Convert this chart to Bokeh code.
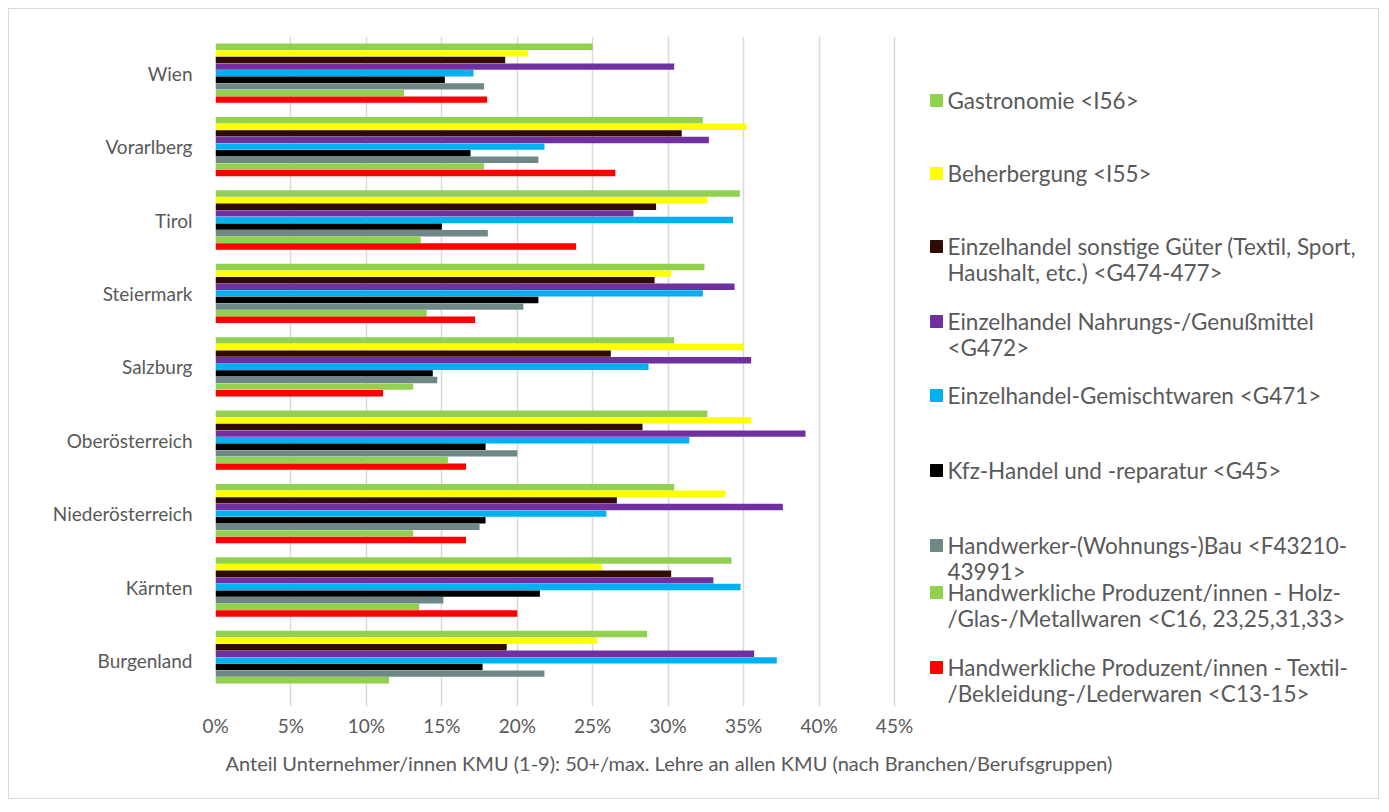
from bokeh.plotting import figure
from bokeh.models import (NumeralTickFormatter, FixedTicker, Range1d,
                          ColumnDataSource, Title)
from bokeh.core.properties import value
from bokeh.embed import file_html
from bokeh.resources import INLINE

regions = ["Wien", "Vorarlberg", "Tirol", "Steiermark", "Salzburg",
           "Oberösterreich", "Niederösterreich", "Kärnten", "Burgenland"]

series_names = [
    "Gastronomie <I56>",
    "Beherbergung <I55>",
    "Einzelhandel sonstige Güter (Textil, Sport,\nHaushalt, etc.) <G474-477>",
    "Einzelhandel Nahrungs-/Genußmittel\n<G472>",
    "Einzelhandel-Gemischtwaren <G471>",
    "Kfz-Handel und -reparatur <G45>",
    "Handwerker-(Wohnungs-)Bau <F43210-\n43991>",
    "Handwerkliche Produzent/innen - Holz-\n/Glas-/Metallwaren <C16, 23,25,31,33>",
    "Handwerkliche Produzent/innen - Textil-\n/Bekleidung-/Lederwaren <C13-15>",
]
series_colors = ["#92D050", "#FFFF00", "#2F0B00", "#7030A0", "#00B0F0",
                 "#000000", "#6E8787", "#92D050", "#FF0000"]

# values in percent, order of regions above
gastronomie = [25.0, 32.3, 34.75, 32.4, 30.4, 32.6, 30.4, 34.2, 28.6]
beherbergung = [20.7, 35.2, 32.6, 30.2, 35.0, 35.5, 33.8, 25.6, 25.3]
einzel_sonstige = [19.2, 30.9, 29.2, 29.1, 26.2, 28.3, 26.6, 30.2, 19.3]
einzel_nahrung = [30.4, 32.7, 27.7, 34.4, 35.5, 39.1, 37.6, 33.0, 35.7]
einzel_gemischt = [17.1, 21.8, 34.3, 32.3, 28.7, 31.4, 25.9, 34.8, 37.2]
kfz = [15.2, 16.9, 15.0, 21.4, 14.4, 17.9, 17.9, 21.5, 17.7]
handwerker_bau = [17.8, 21.4, 18.05, 20.4, 14.7, 20.0, 17.5, 15.1, 21.8]
holz_glas_metall = [12.5, 17.8, 13.6, 14.0, 13.1, 15.4, 13.1, 13.5, 11.5]
textil_leder = [18.0, 26.5, 23.9, 17.2, 11.1, 16.6, 16.6, 20.0, float("nan")]

all_series = [gastronomie, beherbergung, einzel_sonstige, einzel_nahrung,
              einzel_gemischt, kfz, handwerker_bau, holz_glas_metall, textil_leder]

x_ticks = [0, 5, 10, 15, 20, 25, 30, 35, 40, 45]

FONT = "Lato"
TXT = "#595959"

# page geometry (pixels)
OX, OY = 9, 9                 # canvas origin on the page (margin + border)
CW, CH = 1371, 791            # canvas size
FL, FR, FT, FB = 215, 1380, 36, 706   # frame edges on the page
X45 = 894                     # page x of the 45 % gridline
CAT_PX = 73.4                 # pixel height of one region band
x_end = 0.45 * (FR - FL) / (X45 - FL)
n = len(regions)
y_start = n - (FB - FT) / CAT_PX

p = figure(width=CW, height=CH, output_backend="svg", toolbar_location=None,
           y_range=Range1d(y_start, n), x_range=Range1d(0, x_end),
           min_border_left=FL - OX, min_border_right=(OX + CW) - FR,
           min_border_top=FT - OY, min_border_bottom=(OY + CH) - FB,
           margin=(8, 0, 0, 8), styles={"border": "1px solid #D9D9D9"})
p.outline_line_color = None
p.background_fill_color = "white"
p.border_fill_color = "white"

# region k (Wien first) is centred at n - k - 0.5
centres = [n - k - 0.5 for k in range(n)]
slot = 0.09
for i, s in enumerate(all_series):
    off = (4 - i) * slot
    src = ColumnDataSource(dict(y=[c + off for c in centres],
                                right=[v / 100.0 for v in s]))
    p.hbar(y="y", left=0, right="right", height=slot * 0.97, source=src,
           fill_color=series_colors[i], line_color=None)

p.xaxis.ticker = FixedTicker(ticks=[t / 100 for t in x_ticks])
p.xaxis.formatter = NumeralTickFormatter(format="0%")
p.xgrid.ticker = FixedTicker(ticks=[t / 100 for t in x_ticks])
p.xgrid.grid_line_color = "#D9D9D9"
p.xgrid.grid_line_width = 1.5
p.ygrid.grid_line_color = None

p.yaxis.ticker = FixedTicker(ticks=centres)
p.yaxis.major_label_overrides = {c: r for c, r in zip(centres, regions)}

for ax in (p.xaxis[0], p.yaxis[0]):
    ax.axis_line_color = None
    ax.major_tick_line_color = None
    ax.minor_tick_line_color = None
    ax.major_tick_out = 0
    ax.minor_tick_out = 0
    ax.major_label_text_font = FONT
    ax.major_label_text_color = TXT
p.xaxis.major_label_text_font_size = "19px"
p.xaxis.major_label_standoff = 7
p.yaxis.major_label_text_font_size = "19px"
p.yaxis.major_label_standoff = 23

# axis title
p.add_layout(Title(text="Anteil Unternehmer/innen KMU (1-9): 50+/max. Lehre an allen KMU (nach Branchen/Berufsgruppen)",
                   align="left", offset=10, standoff=18,
                   text_font=FONT, text_font_size="20px", text_font_style="normal",
                   text_color=TXT), "below")

# legend drawn in page-pixel coordinates through extra ranges
p.extra_x_ranges = {"px": Range1d(FL, FR)}
p.extra_y_ranges = {"px": Range1d(FB, FT)}
legend_y = [100, 173, 246, 321, 395, 470, 545, 592, 667]
line_gap = 25.5
sq = 12
sw = dict(left=[], right=[], top=[], bottom=[], color=[])
tx = dict(x=[], y=[], text=[])
for i, name in enumerate(series_names):
    y0 = legend_y[i]
    sw["left"].append(930)
    sw["right"].append(930 + sq)
    sw["top"].append(y0 - sq / 2)
    sw["bottom"].append(y0 + sq / 2)
    sw["color"].append(series_colors[i])
    for j, line in enumerate(name.split("\n")):
        tx["x"].append(947)
        tx["y"].append(y0 + j * line_gap)
        tx["text"].append(line)
p.quad(left="left", right="right", top="top", bottom="bottom", color="color",
       source=ColumnDataSource(sw), x_range_name="px", y_range_name="px")
p.text(x="x", y="y", text="text", source=ColumnDataSource(tx),
       x_range_name="px", y_range_name="px",
       text_font=value(FONT), text_font_size=value("22.5px"), text_color=TXT,
       text_align="left", text_baseline="middle")

open("out.html", "w").write(file_html(p, INLINE))
